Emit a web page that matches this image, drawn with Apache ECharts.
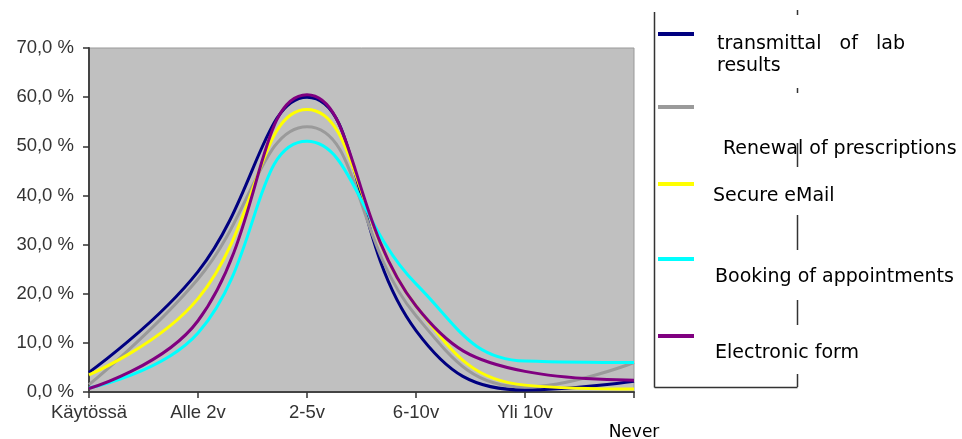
<!DOCTYPE html>
<html><head><meta charset="utf-8">
<script src="https://cdn.jsdelivr.net/npm/echarts@6/dist/echarts.min.js"></script>
<style>html,body{margin:0;padding:0;background:#fff}#c{width:962px;height:439px}</style>
</head><body><div id="c"></div>
<script>
const categories = ['Käytössä', 'Alle 2v', '2-5v', '6-10v', 'Yli 10v', 'Never'];
const seriesNames = ['transmittal of lab results', 'Renewal of prescriptions', 'Secure eMail', 'Booking of appointments', 'Electronic form'];
const legendLabels = ['transmittal   of   lab\nresults', 'Renewal of prescriptions', 'Secure eMail', 'Booking of appointments', 'Electronic form'];
const labResults   = [4.0, 24.5, 60.0, 12.5, 0.4, 2.2];
const prescriptions = [1.5, 23.0, 54.0, 15.5, 1.0, 6.0];
const secureEmail  = [3.5, 19.0, 57.5, 17.5, 1.4, 0.6];
const booking      = [0.8, 12.0, 51.0, 22.0, 6.3, 6.0];
const electronicForm = [0.7, 14.5, 60.5, 17.5, 4.2, 2.4];
const yTicks = [0, 10, 20, 30, 40, 50, 60, 70];

const colors = ['#000080', '#9a9a9a', '#ffff00', '#00ffff', '#800080'];
const dataSets = [labResults, prescriptions, secureEmail, booking, electronicForm];

const chart = echarts.init(document.getElementById('c'), null, {renderer: 'canvas'});

const swatchY = [34, 107, 184, 259, 336];
const textPos = [[717, 55], [723, 149], [713, 196], [715, 277], [715, 353]];
const graphics = [];
graphics.push({type: 'line', shape: {x1: 654.5, y1: 12, x2: 654.5, y2: 387.5}, style: {stroke: '#333', lineWidth: 1.5}});
graphics.push({type: 'line', shape: {x1: 654.5, y1: 387.5, x2: 797.5, y2: 387.5}, style: {stroke: '#333', lineWidth: 1.5}});
[[10, 15], [88, 93], [143, 167], [215, 250], [300, 325], [374, 387]].forEach(s => {
  graphics.push({type: 'line', shape: {x1: 797.5, y1: s[0], x2: 797.5, y2: s[1]}, style: {stroke: '#333', lineWidth: 1.5}});
});
seriesNames.forEach((n, i) => {
  graphics.push({type: 'rect', shape: {x: 658, y: swatchY[i] - 2, width: 36, height: 4}, style: {fill: colors[i]}});
  graphics.push({type: 'text', x: textPos[i][0], y: textPos[i][1], style: {text: legendLabels[i], fill: '#000', font: '19px "DejaVu Sans"', lineHeight: 22, verticalAlign: 'middle'}});
});

chart.setOption({
  animation: false,
  grid: {left: 89, right: 328, top: 48, bottom: 47, containLabel: false, outerBoundsMode: 'none', show: true, backgroundColor: '#c0c0c0', borderColor: '#999', borderWidth: 1},
  xAxis: {
    type: 'category', boundaryGap: false,
    data: categories.map(c => c === 'Never'
      ? {value: c, textStyle: {fontFamily: 'DejaVu Sans', fontSize: 17, color: '#000', padding: [21, 0, 0, 0]}}
      : c),
    axisLine: {lineStyle: {color: '#444', width: 2}},
    axisTick: {show: true, length: 6, lineStyle: {color: '#333', width: 1.5}, alignWithLabel: true},
    axisLabel: {interval: 0, margin: 11, color: '#333', fontFamily: 'Liberation Sans', fontSize: 18.5},
    splitLine: {show: false}
  },
  yAxis: {
    type: 'value', min: 0, max: 70, interval: 10,
    axisLine: {show: true, lineStyle: {color: '#444', width: 2}},
    axisTick: {show: true, length: 6, lineStyle: {color: '#333', width: 1.5}},
    axisLabel: {margin: 15, color: '#333', fontFamily: 'Liberation Sans', fontSize: 18.5,
      formatter: v => v.toFixed(1).replace('.', ',') + ' %'},
    splitLine: {show: false}
  },
  series: seriesNames.map((n, i) => ({
    name: n, type: 'line', data: dataSets[i], smooth: 0.45, showSymbol: false,
    lineStyle: {color: colors[i], width: 3}, itemStyle: {color: colors[i]}, z: 2 + (i === 4 ? 1 : 0)
  })),
  graphic: graphics
});
</script></body></html>
